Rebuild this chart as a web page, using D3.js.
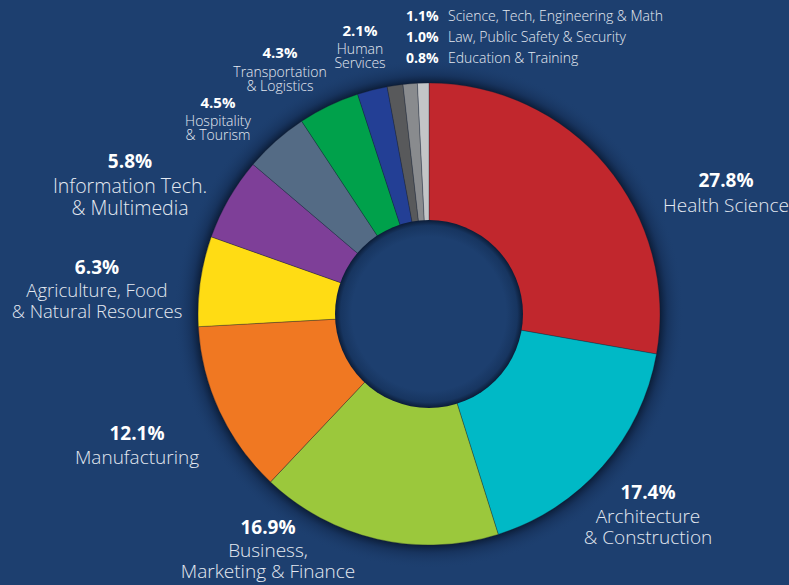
<!DOCTYPE html>
<html lang="en">
<head>
  <meta charset="UTF-8">
  <title>Career cluster share</title>
  <script src="https://d3js.org/d3.v7.min.js"></script>
  <style>
    html, body { margin: 0; padding: 0; background: #1d3f6f; }
    svg { display: block; }
    .pct { font-family: "Open Sans", sans-serif; font-weight: 700; fill: #fff; }
    .name { font-family: "Open Sans", sans-serif; font-weight: 300; fill: #e4e9f1; }
  </style>
</head>
<body>
<script>
  // data, clockwise from 12 o'clock
  const categories = [
    "Health Science", "Architecture & Construction", "Business, Marketing & Finance",
    "Manufacturing", "Agriculture, Food & Natural Resources", "Information Tech. & Multimedia",
    "Hospitality & Tourism", "Transportation & Logistics", "Human Services",
    "Science, Tech, Engineering & Math", "Law, Public Safety & Security", "Education & Training"
  ];
  const shares = [27.8, 17.4, 16.9, 12.1, 6.3, 5.8, 4.5, 4.3, 2.1, 1.1, 1.0, 0.8];
  const colors = [
    "#c1272d", "#00b9c6", "#9bc83c", "#f07822", "#ffdc14", "#7e3f98",
    "#546b85", "#00a14b", "#233f95", "#58595b", "#898b8e", "#c3c5c7"
  ];
  // how each label is broken into lines
  const labelLines = [
    ["Health Science"], ["Architecture", "& Construction"], ["Business,", "Marketing & Finance"],
    ["Manufacturing"], ["Agriculture, Food", "& Natural Resources"], ["Information Tech.", "& Multimedia"],
    ["Hospitality", "& Tourism"], ["Transportation", "& Logistics"], ["Human", "Services"],
    ["Science, Tech, Engineering & Math"], ["Law, Public Safety & Security"], ["Education & Training"]
  ];

  const W = 789, H = 585;
  const cx = 429, cy = 314, outerR = 231, innerR = 94;

  const svg = d3.select("body").append("svg")
    .attr("width", W).attr("height", H);

  const defs = svg.append("defs");

  // soft dark glow around the ring
  const glow = defs.append("radialGradient").attr("id", "glow")
    .attr("gradientUnits", "userSpaceOnUse")
    .attr("cx", cx).attr("cy", cy).attr("r", outerR + 24);
  glow.append("stop").attr("offset", outerR / (outerR + 24)).attr("stop-color", "#0a1a33").attr("stop-opacity", 0.9);
  glow.append("stop").attr("offset", (outerR + 8) / (outerR + 24)).attr("stop-color", "#10264a").attr("stop-opacity", 0.45);
  glow.append("stop").attr("offset", 1).attr("stop-color", "#1d3f6f").attr("stop-opacity", 0);

  // inner shadow of the hole (gradient lives in the translated group's space)
  const hole = defs.append("radialGradient").attr("id", "hole")
    .attr("gradientUnits", "userSpaceOnUse")
    .attr("cx", 0).attr("cy", 0).attr("r", innerR);
  hole.append("stop").attr("offset", 0.82).attr("stop-color", "#1d3f6f");
  hole.append("stop").attr("offset", 0.94).attr("stop-color", "#173560");
  hole.append("stop").attr("offset", 1).attr("stop-color", "#0b1c37");

  svg.append("rect").attr("width", W).attr("height", H).attr("fill", "#1d3f6f");

  svg.append("circle")
    .attr("cx", cx).attr("cy", cy).attr("r", outerR + 24)
    .attr("fill", "url(#glow)");

  const pie = d3.pie().sort(null).value(d => d)
    .startAngle(0).endAngle(2 * Math.PI);
  const arcs = pie(shares);

  const arc = d3.arc().innerRadius(innerR - 2).outerRadius(outerR);

  const g = svg.append("g").attr("transform", `translate(${cx},${cy})`);

  g.selectAll("path.slice")
    .data(arcs)
    .enter().append("path")
    .attr("class", "slice")
    .attr("d", arc)
    .attr("fill", (d, i) => colors[i])
    .attr("stroke", "rgba(20,30,50,0.55)")
    .attr("stroke-width", 0.6);

  g.append("circle").attr("r", innerR).attr("fill", "url(#hole)");

  // label layout: [x, y of percentage baseline, pct size, name size, line gap, gap after pct]
  const labelLayout = [
    [726, 187, 19, 19, 22, 25],
    [648, 499, 19, 19, 21, 24],
    [268, 534, 19, 19, 21, 23],
    [137, 440, 19, 19, 21, 24],
    [97, 274, 19, 18.5, 21, 23],
    [130, 168, 19, 19.5, 22, 25],
    [218, 108, 15, 14, 14, 18],
    [280, 58, 15, 14, 14, 19],
    [360, 36, 15, 14, 14, 18]
  ];

  const fmt = d3.format(".1f");

  labelLayout.forEach((p, i) => {
    const t = svg.append("g").attr("text-anchor", "middle");
    t.append("text").attr("class", "pct")
      .attr("x", p[0]).attr("y", p[1])
      .attr("font-size", p[2])
      .text(fmt(shares[i]) + "%");
    labelLines[i].forEach((line, j) => {
      t.append("text").attr("class", "name")
        .attr("x", p[0]).attr("y", p[1] + p[5] + j * p[4])
        .attr("font-size", p[3])
        .text(line);
    });
  });

  // small slices listed at the top right
  const listY = d3.scalePoint().domain([9, 10, 11]).range([21, 63]);
  [9, 10, 11].forEach(i => {
    svg.append("text").attr("class", "pct")
      .attr("x", 406).attr("y", listY(i))
      .attr("font-size", 14)
      .text(fmt(shares[i]) + "%");
    svg.append("text").attr("class", "name")
      .attr("x", 448).attr("y", listY(i))
      .attr("font-size", 14)
      .text(labelLines[i][0]);
  });
</script>
</body>
</html>
